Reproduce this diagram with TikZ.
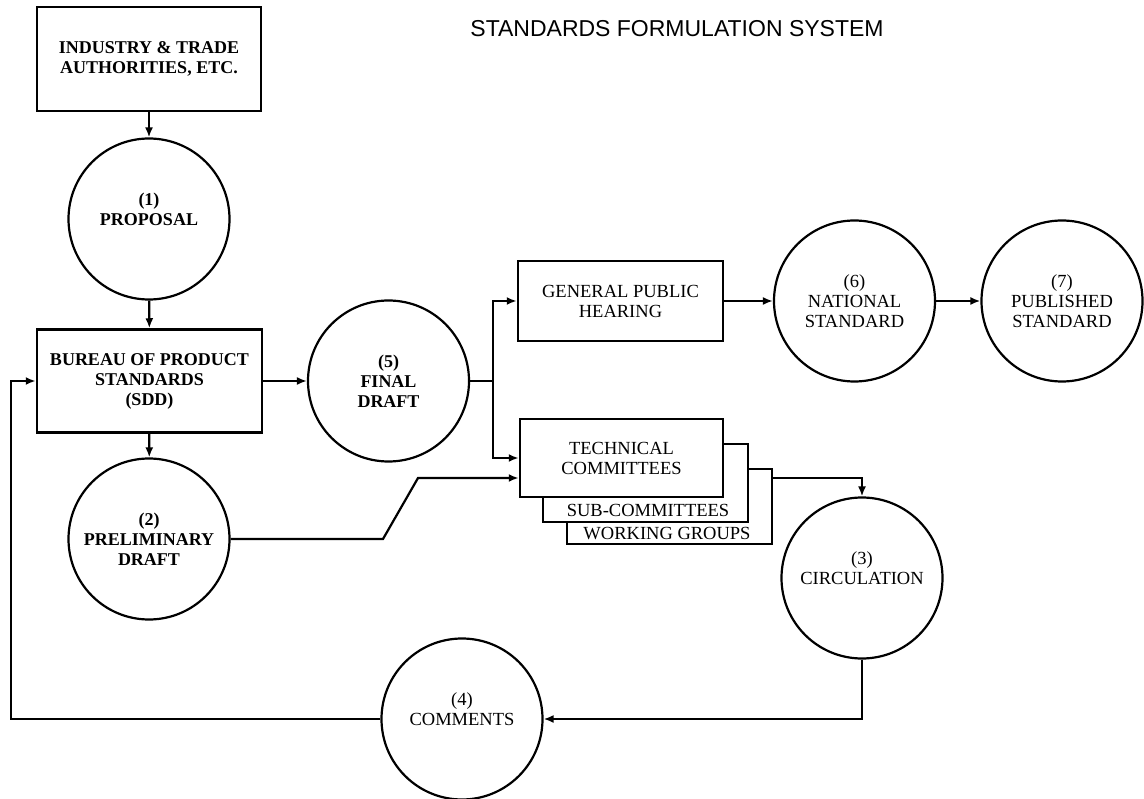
\documentclass[tikz,border=0pt]{standalone}
\usepackage{fontspec}
\setmainfont{Liberation Serif}
\newfontfamily\titlefont{Liberation Sans}
\usetikzlibrary{arrows.meta}

\begin{document}
\begin{tikzpicture}[x=1pt,y=-1pt,line width=2.2pt,
    txt/.style={align=center,font=\fontsize{18.5}{20}\selectfont},
    boldtxt/.style={align=center,font=\fontsize{18}{20}\selectfont\bfseries},
    box/.style={draw,fill=white,inner sep=0pt,line width=2.5pt},
    stage/.style={draw,circle,fill=white,inner sep=0pt,minimum size=161pt},
    flow/.style={-{Latex[length=10pt,width=8pt]}}]
     \useasboundingbox (0,0) rectangle (1144,799);

     \node[font=\titlefont\fontsize{23}{25}\selectfont] (title) at (677,29) {STANDARDS FORMULATION SYSTEM};

     \node[box, boldtxt, minimum width=224pt, minimum height=104pt] (ind) at (149,59) {INDUSTRY \& TRADE\\AUTHORITIES, ETC.};
     \node[stage, boldtxt] (prop) at (149,219) {(1)\\PROPOSAL\\\mbox{}};
     \node[box, boldtxt, minimum width=225pt, minimum height=103pt] (bps) at (149.5,381) {BUREAU OF PRODUCT\\STANDARDS\\(SDD)};
     \node[stage, boldtxt] (prelim) at (149,539) {(2)\\PRELIMINARY\\DRAFT};
     \node[stage, boldtxt] (final) at (388.5,381) {(5)\\FINAL\\DRAFT};

     \node[box, txt, minimum width=205pt, minimum height=80pt] (hearing) at (620.5,301) {GENERAL PUBLIC\\HEARING};
     \node[box, line width=2pt, minimum width=205pt, minimum height=75pt] (groups) at (669.5,506.5) {};
     \node[box, line width=2pt, minimum width=205pt, minimum height=78pt] (subcom) at (645.5,483) {};
     \node[box, txt, minimum width=203pt, minimum height=78pt] (techcom) at (621.5,458) {TECHNICAL\\COMMITTEES};
     \node[txt] (subtxt) at (648,510) {SUB-COMMITTEES};
     \node[txt] (grptxt) at (667,534) {WORKING GROUPS};

     \node[stage, txt] (natl) at (854.5,301) {(6)\\NATIONAL\\STANDARD};
     \node[stage, txt] (publ) at (1062,301) {(7)\\PUBLISHED\\STANDARD};
     \node[stage, txt] (circ) at (862,578) {(3)\\CIRCULATION\\\mbox{}};
     \node[stage, txt] (comm) at (462,719) {(4)\\COMMENTS\\\mbox{}};

     \coordinate (fork) at (493,381);
     \coordinate (kneeA) at (383,539);
     \coordinate (kneeB) at (418,478);
     \coordinate (kneeC) at (862,478);
     \coordinate (kneeD) at (11,719);

     \draw[flow] (ind) -- (prop);
     \draw[flow] (prop) -- (bps);
     \draw[flow] (bps) -- (prelim);
     \draw[flow] (bps) -- (final);
     \draw (final) -- (fork);
     \draw[flow] (fork) |- (hearing);
     \draw[flow] (fork) |- (techcom);
     \draw[flow] (prelim) -- (kneeA) -- (kneeB) -- (kneeB -| techcom.west);
     \draw[flow] (groups.east |- kneeC) -- (kneeC) -- (circ);
     \draw[flow] (circ) |- (comm);
     \draw[flow] (comm) -- (kneeD) |- (bps);
     \draw[flow] (hearing) -- (natl);
     \draw[flow] (natl) -- (publ);
\end{tikzpicture}
\end{document}
